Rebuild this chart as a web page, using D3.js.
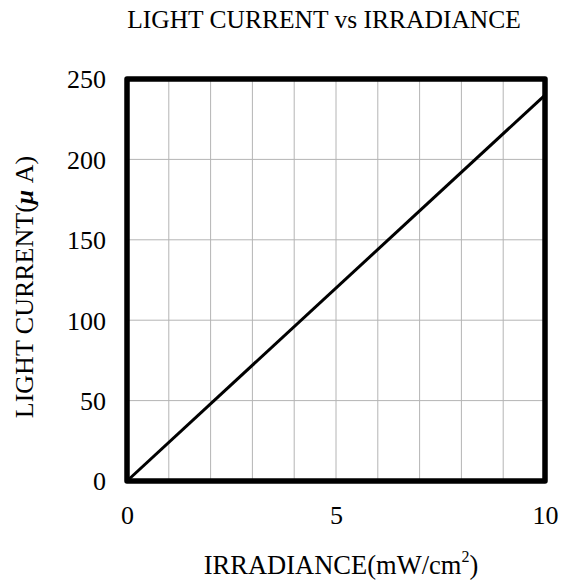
<!DOCTYPE html>
<html>
<head>
<meta charset="utf-8">
<script src="https://cdn.jsdelivr.net/npm/d3@7"></script>
<style>
  body { margin: 0; background: #fff; }
  text { font-family: "Liberation Serif", "DejaVu Serif", serif; fill: #000; }
</style>
</head>
<body>
<svg id="chart" width="570" height="585"></svg>
<script>
// data
const irradiance = [0, 10];          // mW/cm2
const lightCurrent = [0, 240];       // uA
const xTicks = [0, 5, 10];
const yTicks = [0, 50, 100, 150, 200, 250];
const xGrid = d3.range(0, 11, 1);
const yGrid = d3.range(0, 251, 50);

const svg = d3.select("#chart");
const plotL = 127, plotR = 545, plotT = 79, plotB = 481;

const x = d3.scaleLinear().domain([0, 10]).range([plotL, plotR]);
const y = d3.scaleLinear().domain([0, 250]).range([plotB, plotT]);

// grid
const grid = svg.append("g").attr("stroke", "#b4b4b4").attr("stroke-width", 1);
grid.selectAll("line.v")
  .data(xGrid)
  .enter().append("line")
  .attr("x1", d => x(d)).attr("x2", d => x(d))
  .attr("y1", plotT).attr("y2", plotB);
grid.selectAll("line.h")
  .data(yGrid)
  .enter().append("line")
  .attr("x1", plotL).attr("x2", plotR)
  .attr("y1", d => y(d)).attr("y2", d => y(d));

// series
const line = d3.line().x((d, i) => x(irradiance[i])).y(d => y(d));
svg.append("path")
  .datum(lightCurrent)
  .attr("d", line)
  .attr("fill", "none")
  .attr("stroke", "#000")
  .attr("stroke-width", 3);

// frame
svg.append("rect")
  .attr("x", plotL).attr("y", plotT)
  .attr("width", plotR - plotL).attr("height", plotB - plotT)
  .attr("fill", "none")
  .attr("stroke", "#000")
  .attr("stroke-width", 5.5)
  .attr("stroke-linejoin", "round");

// axes (labels only)
const xAxis = svg.append("g")
  .attr("transform", `translate(0,${plotB + 25})`)
  .call(d3.axisBottom(x).tickValues(xTicks).tickSize(0).tickPadding(0));
xAxis.select(".domain").remove();
xAxis.selectAll("text")
  .attr("font-size", 26)
  .attr("font-family", "Liberation Serif, serif")
  .attr("dy", "0.71em");

const yAxis = svg.append("g")
  .attr("transform", `translate(${plotL - 21},0)`)
  .call(d3.axisLeft(y).tickValues(yTicks).tickSize(0).tickPadding(0));
yAxis.select(".domain").remove();
yAxis.selectAll("text")
  .attr("font-size", 26)
  .attr("font-family", "Liberation Serif, serif")
  .attr("dy", "0.34em");

// title
svg.append("text")
  .attr("x", 324).attr("y", 28)
  .attr("text-anchor", "middle")
  .attr("font-size", 25.5)
  .text("LIGHT CURRENT vs IRRADIANCE");

// x label
const xl = svg.append("text")
  .attr("x", 341).attr("y", 574)
  .attr("text-anchor", "middle")
  .attr("font-size", 26.5);
xl.append("tspan").text("IRRADIANCE(mW/cm");
xl.append("tspan").attr("font-size", 16).attr("dy", -12).text("2");
xl.append("tspan").attr("dy", 12).text(")");

// y label
const yl = svg.append("text")
  .attr("transform", "translate(33,287) rotate(-90)")
  .attr("text-anchor", "middle")
  .attr("font-size", 26);
yl.append("tspan").text("LIGHT CURRENT(");
yl.append("tspan").attr("font-style", "italic").attr("font-weight", "bold").text("μ");
yl.append("tspan").text(" A)");
</script>
</body>
</html>
